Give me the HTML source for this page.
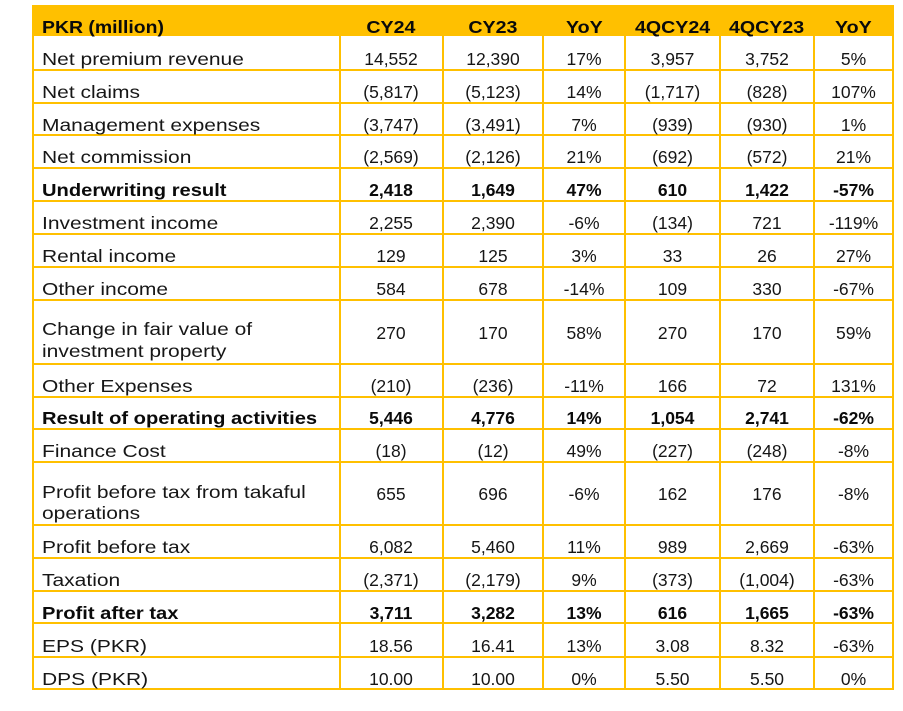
<!DOCTYPE html>
<html><head><meta charset="utf-8"><style>
html,body{margin:0;padding:0}
body{background:#fff;width:903px;height:711px;overflow:hidden;position:relative;font-family:"Liberation Sans",sans-serif;color:#161616}
.hd{position:absolute;left:32px;top:5px;width:862px;height:31px;background:#FFC000}
.hl{position:absolute;left:32px;width:862px;height:2px;background:#FFC000}
.vl{position:absolute;top:36px;height:654px;width:2px;background:#FFC000}
.r{position:absolute;left:0;width:903px;height:20px;font-size:17.5px;line-height:20px}
.r div{position:absolute;top:0;white-space:nowrap;text-align:center}
.r .lb{left:42px;text-align:left}
.lb span{display:inline-block;transform:scaleX(1.2);transform-origin:0 50%}
.b{font-weight:bold;color:#0a0a0a}
.b .lb span{transform:scaleX(1.15)}
.hr .lb span{transform:scaleX(1.11)}
.hr .cs{display:inline-block;transform:scaleX(1.12);transform-origin:50% 50%}
.c1{left:341px;width:100px}
.c2{left:444px;width:98px}
.c3{left:544px;width:80px}
.c4{left:626px;width:93px}
.c5{left:721px;width:92px}
.c6{left:815px;width:77px}
.ml{position:absolute;left:42px;font-size:17.5px;line-height:21.3px;white-space:nowrap}
.ml span{display:inline-block;transform:scaleX(1.2);transform-origin:0 50%}
</style></head><body>
<div class="hd"></div>

<div class="hl" style="top:68.5px"></div>
<div class="hl" style="top:101.5px"></div>
<div class="hl" style="top:134.3px"></div>
<div class="hl" style="top:167px"></div>
<div class="hl" style="top:199.7px"></div>
<div class="hl" style="top:233px"></div>
<div class="hl" style="top:265.7px"></div>
<div class="hl" style="top:299px"></div>
<div class="hl" style="top:363px"></div>
<div class="hl" style="top:395.7px"></div>
<div class="hl" style="top:427.7px"></div>
<div class="hl" style="top:461px"></div>
<div class="hl" style="top:523.7px"></div>
<div class="hl" style="top:557px"></div>
<div class="hl" style="top:589.7px"></div>
<div class="hl" style="top:622.3px"></div>
<div class="hl" style="top:655.7px"></div>
<div class="hl" style="top:688.3px"></div>

<div class="vl" style="left:32px"></div>
<div class="vl" style="left:339px"></div>
<div class="vl" style="left:442px"></div>
<div class="vl" style="left:542px"></div>
<div class="vl" style="left:624px"></div>
<div class="vl" style="left:719px"></div>
<div class="vl" style="left:813px"></div>
<div class="vl" style="left:892px"></div>

<div class="r b hr" style="top:17.2px"><div class="lb"><span>PKR (million)</span></div><div class="c1"><span class="cs">CY24</span></div><div class="c2"><span class="cs">CY23</span></div><div class="c3"><span class="cs">YoY</span></div><div class="c4"><span class="cs">4QCY24</span></div><div class="c5"><span class="cs">4QCY23</span></div><div class="c6"><span class="cs">YoY</span></div></div>

<div class="r" style="top:48.7px"><div class="lb"><span>Net premium revenue</span></div><div class="c1">14,552</div><div class="c2">12,390</div><div class="c3">17%</div><div class="c4">3,957</div><div class="c5">3,752</div><div class="c6">5%</div></div>

<div class="r" style="top:81.7px"><div class="lb"><span>Net claims</span></div><div class="c1">(5,817)</div><div class="c2">(5,123)</div><div class="c3">14%</div><div class="c4">(1,717)</div><div class="c5">(828)</div><div class="c6">107%</div></div>

<div class="r" style="top:114.5px"><div class="lb"><span>Management expenses</span></div><div class="c1">(3,747)</div><div class="c2">(3,491)</div><div class="c3">7%</div><div class="c4">(939)</div><div class="c5">(930)</div><div class="c6">1%</div></div>

<div class="r" style="top:147.2px"><div class="lb"><span>Net commission</span></div><div class="c1">(2,569)</div><div class="c2">(2,126)</div><div class="c3">21%</div><div class="c4">(692)</div><div class="c5">(572)</div><div class="c6">21%</div></div>

<div class="r b" style="top:179.9px"><div class="lb"><span>Underwriting result</span></div><div class="c1">2,418</div><div class="c2">1,649</div><div class="c3">47%</div><div class="c4">610</div><div class="c5">1,422</div><div class="c6">-57%</div></div>

<div class="r" style="top:213.2px"><div class="lb"><span>Investment income</span></div><div class="c1">2,255</div><div class="c2">2,390</div><div class="c3">-6%</div><div class="c4">(134)</div><div class="c5">721</div><div class="c6">-119%</div></div>

<div class="r" style="top:245.9px"><div class="lb"><span>Rental income</span></div><div class="c1">129</div><div class="c2">125</div><div class="c3">3%</div><div class="c4">33</div><div class="c5">26</div><div class="c6">27%</div></div>

<div class="r" style="top:279.2px"><div class="lb"><span>Other income</span></div><div class="c1">584</div><div class="c2">678</div><div class="c3">-14%</div><div class="c4">109</div><div class="c5">330</div><div class="c6">-67%</div></div>

<div class="ml" style="top:319.3px"><span>Change in fair value of<br>investment property</span></div>
<div class="r" style="top:323.2px"><div class="c1">270</div><div class="c2">170</div><div class="c3">58%</div><div class="c4">270</div><div class="c5">170</div><div class="c6">59%</div></div>

<div class="r" style="top:375.9px"><div class="lb"><span>Other Expenses</span></div><div class="c1">(210)</div><div class="c2">(236)</div><div class="c3">-11%</div><div class="c4">166</div><div class="c5">72</div><div class="c6">131%</div></div>

<div class="r b" style="top:407.9px"><div class="lb"><span>Result of operating activities</span></div><div class="c1">5,446</div><div class="c2">4,776</div><div class="c3">14%</div><div class="c4">1,054</div><div class="c5">2,741</div><div class="c6">-62%</div></div>

<div class="r" style="top:441.2px"><div class="lb"><span>Finance Cost</span></div><div class="c1">(18)</div><div class="c2">(12)</div><div class="c3">49%</div><div class="c4">(227)</div><div class="c5">(248)</div><div class="c6">-8%</div></div>

<div class="ml" style="top:481.6px"><span>Profit before tax from takaful<br>operations</span></div>
<div class="r" style="top:484px"><div class="c1">655</div><div class="c2">696</div><div class="c3">-6%</div><div class="c4">162</div><div class="c5">176</div><div class="c6">-8%</div></div>

<div class="r" style="top:537.2px"><div class="lb"><span>Profit before tax</span></div><div class="c1">6,082</div><div class="c2">5,460</div><div class="c3">11%</div><div class="c4">989</div><div class="c5">2,669</div><div class="c6">-63%</div></div>

<div class="r" style="top:569.9px"><div class="lb"><span>Taxation</span></div><div class="c1">(2,371)</div><div class="c2">(2,179)</div><div class="c3">9%</div><div class="c4">(373)</div><div class="c5">(1,004)</div><div class="c6">-63%</div></div>

<div class="r b" style="top:602.5px"><div class="lb"><span>Profit after tax</span></div><div class="c1">3,711</div><div class="c2">3,282</div><div class="c3">13%</div><div class="c4">616</div><div class="c5">1,665</div><div class="c6">-63%</div></div>

<div class="r" style="top:635.9px"><div class="lb"><span>EPS (PKR)</span></div><div class="c1">18.56</div><div class="c2">16.41</div><div class="c3">13%</div><div class="c4">3.08</div><div class="c5">8.32</div><div class="c6">-63%</div></div>

<div class="r" style="top:668.5px"><div class="lb"><span>DPS (PKR)</span></div><div class="c1">10.00</div><div class="c2">10.00</div><div class="c3">0%</div><div class="c4">5.50</div><div class="c5">5.50</div><div class="c6">0%</div></div>

</body></html>
